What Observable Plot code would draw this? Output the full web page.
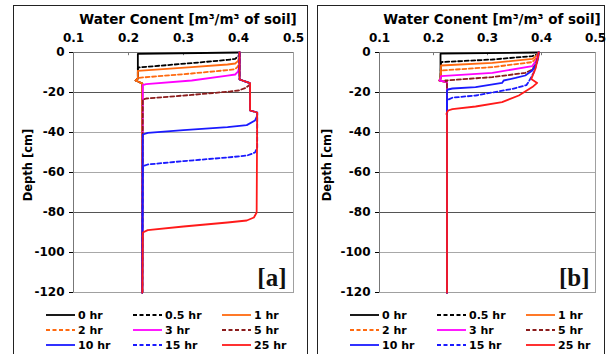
<!DOCTYPE html>
<html><head><meta charset="utf-8">
<script src="https://cdn.jsdelivr.net/npm/d3@7"></script>
<script src="https://cdn.jsdelivr.net/npm/@observablehq/plot@0.6"></script>
<style>
body{margin:0;background:#fff;width:608px;height:354px;overflow:hidden;position:relative;font-family:"DejaVu Sans",Verdana,sans-serif;}
.frame{position:absolute;border-left:1px solid #222;border-top:1px solid #222;border-right:1px solid #222;height:360px;}
.title{position:absolute;font-weight:bold;font-size:13.5px;white-space:nowrap;transform:translateX(-50%);}
.ylab{position:absolute;font-weight:bold;font-size:11.5px;white-space:nowrap;transform:translate(-50%,-50%) rotate(-90deg);}
.leg{position:absolute;font-weight:bold;font-size:11px;white-space:nowrap;display:flex;align-items:center;}
.leg svg{margin-right:3px;}
</style></head>
<body>
<script>
// ---- data ----
const times = ["0 hr","0.5 hr","1 hr","2 hr","3 hr","5 hr","10 hr","15 hr","25 hr"];
const xTicks = [0.1,0.2,0.3,0.4,0.5];
const xTickLabels = ["0.1","0.2","0.3","0.4","0.5"];
const yTicks = [0,-20,-40,-60,-80,-100,-120];
const yTickLabels = ["0","-20","-40","-60","-80","-100","-120"];
const xTitle = "Water Conent [m\u00B3/m\u00B3 of soil]";
const yTitle = "Depth [cm]";
const panelLabels = ["[a]","[b]"];

// panel [a] profiles: [water content, depth]
const a0  = [[0.402,0],[0.217,-0.7],[0.217,-13],[0.213,-14],[0.225,-15.5],[0.225,-120]];
const a05 = [[0.402,0],[0.401,-1.5],[0.394,-3.2],[0.38,-3.7],[0.315,-5.3],[0.217,-7.5],[0.217,-13],[0.213,-14],[0.225,-15.5],[0.225,-120]];
const a1  = [[0.402,0],[0.402,-2],[0.399,-4.3],[0.394,-5.5],[0.38,-6],[0.315,-7.3],[0.217,-9.2],[0.217,-13],[0.213,-14],[0.225,-15.5],[0.225,-120]];
const a2  = [[0.402,0],[0.402,-4],[0.399,-7],[0.394,-8.3],[0.38,-8.8],[0.315,-10.5],[0.217,-12.7],[0.217,-13],[0.213,-14],[0.225,-15.5],[0.225,-120]];
const a3  = [[0.402,0],[0.402,-6.5],[0.399,-9.6],[0.394,-11],[0.38,-11.6],[0.315,-14],[0.232,-15.8],[0.226,-16.3],[0.225,-120]];
const a5  = [[0.402,0],[0.402,-13.5],[0.421,-15.3],[0.42,-16.3],[0.412,-17.8],[0.40,-19],[0.385,-19.5],[0.315,-21.2],[0.232,-23],[0.226,-23.6],[0.225,-120]];
const a10 = [[0.402,0],[0.402,-13.5],[0.421,-15.3],[0.421,-29],[0.434,-30],[0.434,-31.5],[0.43,-34],[0.415,-36.3],[0.38,-37.3],[0.30,-38.8],[0.235,-40.2],[0.226,-41],[0.225,-120]];
const a15 = [[0.402,0],[0.402,-13.5],[0.421,-15.3],[0.421,-29],[0.434,-30],[0.434,-47.5],[0.43,-50],[0.416,-51.5],[0.38,-52.5],[0.30,-54.3],[0.235,-56],[0.226,-56.8],[0.225,-120]];
const a25 = [[0.402,0],[0.402,-13.5],[0.421,-15.3],[0.421,-29],[0.434,-30],[0.433,-80],[0.428,-82.5],[0.415,-84],[0.38,-85],[0.30,-87],[0.235,-88.8],[0.226,-90],[0.225,-120]];

// panel [b] profiles: [water content, depth]
const b0  = [[0.395,0],[0.213,-0.6],[0.213,-13.2],[0.211,-14],[0.225,-14.8],[0.225,-120]];
const b05 = [[0.395,0],[0.392,-1],[0.383,-1.8],[0.309,-3.5],[0.214,-4.8],[0.213,-13.2],[0.211,-14],[0.225,-14.8],[0.225,-120]];
const b1  = [[0.395,0],[0.39,-1.8],[0.383,-3.2],[0.309,-5.2],[0.214,-6.5],[0.213,-13.2],[0.211,-14],[0.225,-14.8],[0.225,-120]];
const b2  = [[0.395,0],[0.39,-2.8],[0.383,-4.8],[0.309,-7.3],[0.214,-9],[0.213,-13.2],[0.211,-14],[0.225,-14.8],[0.225,-120]];
const b3  = [[0.395,0],[0.39,-4],[0.383,-6.8],[0.309,-10.2],[0.214,-11.8],[0.213,-13.2],[0.211,-14],[0.225,-14.8],[0.225,-120]];
const b5  = [[0.395,0],[0.39,-5.5],[0.383,-8.5],[0.37,-10.2],[0.309,-12.3],[0.222,-14],[0.225,-14.8],[0.225,-120]];
const b10 = [[0.395,0],[0.394,-2.5],[0.39,-6],[0.383,-9],[0.37,-11.5],[0.352,-12.7],[0.330,-14],[0.327,-15.2],[0.278,-17.3],[0.235,-18],[0.227,-18.5],[0.225,-19],[0.225,-120]];
const b15 = [[0.395,0],[0.392,-4.8],[0.386,-9.8],[0.376,-14.8],[0.372,-16.3],[0.346,-18.2],[0.278,-21.5],[0.235,-22.6],[0.228,-23.5],[0.225,-24],[0.225,-120]];
const b25 = [[0.395,0],[0.393,-3],[0.389,-8],[0.381,-13.3],[0.392,-15.2],[0.383,-17.3],[0.358,-21.5],[0.327,-24.8],[0.278,-27],[0.235,-28.3],[0.227,-29],[0.224,-30.7],[0.225,-31.5],[0.225,-120]];

const profilesA = [a0,a05,a1,a2,a3,a5,a10,a15,a25];
const profilesB = [b0,b05,b1,b2,b3,b5,b10,b15,b25];

// ---- styles ----
const colors = ["#000000","#000000","#ff6a10","#ff6a10","#ff00ff","#8b1c1c","#1a1aff","#1a1aff","#ff1a1a"];
const dashed = [false,true,false,true,false,true,false,true,false];
const gridDark = [-20,-80];
const gridLight = [-40,-60,-100];

function panel(profiles, label, opts){
  const marks = [
    Plot.ruleY(gridLight,{stroke:"#a8a8a8",strokeWidth:1}),
    Plot.ruleY(gridDark,{stroke:"#555",strokeWidth:1}),
    Plot.frame({stroke:"#a0a0a0"}),
    Plot.ruleY([0],{stroke:"#777"}),
    Plot.ruleX([0.2,0.3,0.4],{y1:0,y2:-1.6,stroke:"#777"}),
    Plot.ruleX([0.1],{stroke:"#777"})
  ];
  profiles.forEach((p,i)=>{
    marks.push(Plot.line(p,{x:d=>d[0],y:d=>d[1],stroke:colors[i],strokeWidth:1.8,
      strokeDasharray:dashed[i]?"4,2.5":null}));
  });
  marks.push(Plot.text([label],{text:d=>d,frameAnchor:"bottom-right",textAnchor:"end",lineAnchor:"bottom",
    dx:opts.ldx,dy:-7,fontSize:25,fontWeight:"bold",fontFamily:"'Liberation Serif',serif",fill:"#111"}));
  return Plot.plot({
    width:opts.width,height:300,
    marginLeft:opts.ml,marginRight:opts.mr,marginTop:52,marginBottom:8,
    style:{fontFamily:"'DejaVu Sans',Verdana,sans-serif",fontWeight:"bold",fontSize:"12px",background:"transparent",overflow:"visible",color:"#000"},
    x:{domain:[0.1,0.5],axis:"top",ticks:xTicks,tickFormat:(d)=>xTickLabels[xTicks.indexOf(d)],tickSize:0,tickPadding:11,label:null},
    y:{domain:[-120,0],ticks:yTicks,tickFormat:d=>yTickLabels[yTicks.indexOf(d)],tickSize:4,tickPadding:5,label:null},
    marks
  });
}

function place(el,left,top){el.style.position="absolute";el.style.left=left+"px";el.style.top=top+"px";document.body.appendChild(el);return el;}
function div(cls,html,left,top){const d=document.createElement("div");d.className=cls;d.innerHTML=html;return place(d,left,top);}

// frames
const f1=document.createElement("div");f1.className="frame";f1.style.width="293px";place(f1,13,5);
const f2=document.createElement("div");f2.className="frame";f2.style.width="286px";place(f2,317,5);

// plots
place(panel(profilesA,panelLabels[0],{width:310,ml:73,mr:17,ldx:-7}),0,0);
place(panel(profilesB,panelLabels[1],{width:303,ml:74,mr:13,ldx:-6}),305,0);

// titles
div("title",xTitle,188,11);
div("title",xTitle,492,11);
div("ylab",yTitle,28,165);
div("ylab",yTitle,327,165);

// legends
function legend(x0){
  const cols=[x0+33,x0+120,x0+209];
  const rows=[315,330,345];
  times.forEach((t,i)=>{
    const c=i%3,r=Math.floor(i/3);
    const s=`<svg width="29" height="4"><line x1="0" x2="29" y1="2" y2="2" stroke="${colors[i]}" stroke-width="1.8" ${dashed[i]?'stroke-dasharray="4,2.5"':''}/></svg>`;
    const d=div("leg",s+t,cols[c],rows[r]-7);
    d.style.height="14px";
  });
}
legend(13);
legend(317);
</script>
</body></html>
